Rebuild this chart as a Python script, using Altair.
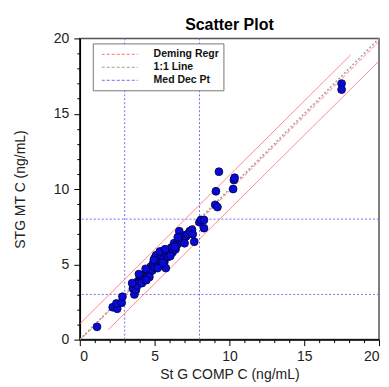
import altair as alt
import pandas as pd

# ---- data ----
comp_x = [1.15, 2.2, 2.5, 2.45, 2.8, 2.85, 3.55, 3.65, 3.6, 3.75, 3.85, 3.9, 4.0, 4.1,
          4.2, 4.3, 4.35, 4.5, 4.55, 4.6, 4.7, 4.75, 4.85, 4.9, 5.0, 5.0, 5.1, 5.15,
          5.25, 5.3, 5.4, 5.45, 5.5, 5.6, 5.65, 5.75, 5.8, 5.9, 6.0, 6.1, 6.2, 6.3,
          6.4, 6.5, 6.65, 6.7, 6.85, 6.95, 7.1, 7.2, 7.35, 7.5, 7.65, 7.55, 8.0, 8.1,
          8.3, 8.3, 9.05, 9.2, 9.1, 9.3, 10.25, 10.3, 10.35, 17.5, 17.5,
          3.5, 3.95, 4.15, 4.4, 4.65, 4.95, 5.2, 5.35, 5.7, 6.05, 6.35, 4.45, 5.55,
          6.55, 7.0]
mt_y = [0.85, 2.15, 2.05, 2.4, 2.45, 2.85, 3.4, 3.0, 3.7, 3.3, 3.6, 3.9, 3.85, 4.1,
        3.95, 4.3, 4.05, 4.2, 4.55, 4.35, 4.5, 4.85, 4.6, 5.05, 4.8, 5.4, 5.6, 5.0,
        5.3, 4.9, 5.6, 5.2, 5.85, 5.4, 5.15, 4.75, 5.65, 5.5, 5.9, 6.1, 5.8, 6.4,
        6.0, 6.3, 7.2, 6.6, 6.5, 6.9, 6.85, 7.0, 7.2, 7.3, 6.5, 7.0, 7.8, 7.95,
        7.95, 7.4, 8.95, 8.8, 9.85, 11.15, 10.0, 10.6, 10.75, 17.0, 16.6,
        3.75, 4.35, 3.75, 4.7, 4.15, 5.3, 4.75, 5.85, 6.0, 5.55, 6.15, 3.95, 5.1,
        6.8, 6.4]

med_dec_pts = [3, 8]

deming_x = [0, 20]
deming_y = [-0.05, 19.8]
upper_x = [0, 18.1]
upper_y = [1.05, 18.9]
lower_x = [1.9, 20]
lower_y = [0.66, 18.5]
identity_x = [0, 20]
identity_y = [0, 20]

series_names = ["Deming Regr", "1:1 Line", "Med Dec Pt"]
series_colors = ["#ff7070", "#a0a0a0", "#6f6fff"]

axis_ticks = list(range(0, 21))

FONT = "Liberation Sans"

pts = pd.DataFrame({"x": comp_x, "y": mt_y})
med = pd.DataFrame({"value": med_dec_pts, "series": "Med Dec Pt"})
bands = pd.DataFrame({
    "x": upper_x + lower_x,
    "y": upper_y + lower_y,
    "line": ["upper"] * 2 + ["lower"] * 2,
    "series": "Deming Regr",
})
deming = pd.DataFrame({"x": deming_x, "y": deming_y, "series": "Deming Regr"})
ident = pd.DataFrame({"x": identity_x, "y": identity_y, "series": "1:1 Line"})

xscale = alt.Scale(domain=[0, 20], nice=False, zero=False)
yscale = alt.Scale(domain=[0, 20], nice=False, zero=False)
cscale = alt.Scale(domain=series_names, range=series_colors)

tick_size = {"condition": {"test": "datum.value % 5 === 0", "value": 6}, "value": 3}

xaxis = alt.Axis(values=axis_ticks, labelExpr="datum.value % 5 === 0 ? datum.label : ''",
                 tickSize=tick_size, grid=False, labelPadding=4, titlePadding=4)
yaxis = alt.Axis(values=axis_ticks, labelExpr="datum.value % 5 === 0 ? datum.label : ''",
                 tickSize=tick_size, grid=False, labelPadding=5, titlePadding=26)

XT = "St G COMP C (ng/mL)"
YT = "STG MT C (ng/mL)"


def X(field):
    return alt.X(field, type="quantitative", scale=xscale, axis=xaxis, title=XT)


def Y(field):
    return alt.Y(field, type="quantitative", scale=yscale, axis=yaxis, title=YT)


legend = alt.Legend(
    title=None, orient="none", legendX=13, legendY=5,
    fillColor="white", strokeColor="#777", padding=4, symbolOffset=16,
    symbolType="M-3,0H3", symbolSize=144, symbolStrokeWidth=1.2, symbolDash=[3, 2],
    labelFont=FONT, labelFontSize=10.5, labelFontWeight="bold", labelColor="#111",
    labelOffset=27, rowPadding=0,
)
color = alt.Color("series:N", scale=cscale, legend=legend)

rules_v = alt.Chart(med).mark_rule(strokeDash=[2, 2], strokeWidth=1).encode(
    x=X("value"), color=color)
rules_h = alt.Chart(med).mark_rule(strokeDash=[2, 2], strokeWidth=1).encode(
    y=Y("value"), color=color)

band_lines = alt.Chart(bands).mark_line(strokeWidth=1, opacity=0.8, clip=True).encode(
    x=X("x"), y=Y("y"), detail="line:N", color=color)
deming_line = alt.Chart(deming).mark_line(strokeWidth=1, strokeDash=[4, 2], clip=True).encode(
    x=X("x"), y=Y("y"), color=color)
ident_line = alt.Chart(ident).mark_line(strokeWidth=1.5, strokeDash=[2, 2], clip=True).encode(
    x=X("x"), y=Y("y"), color=color)

points = alt.Chart(pts).mark_point(
    shape="circle", filled=True, fill="#0a0ad8", stroke="#000040",
    strokeWidth=0.8, size=62, opacity=1,
).encode(x=X("x"), y=Y("y"))

chart = alt.layer(rules_v, rules_h, band_lines, ident_line, deming_line, points).properties(
    width=300, height=302,
    title=alt.TitleParams("Scatter Plot", font=FONT, fontSize=16, fontWeight="bold",
                          color="#000", offset=1, dy=3),
    autosize=alt.AutoSizeParams(type="none"),
    padding={"left": 72, "top": 30, "right": 2, "bottom": 42},
).configure_view(
    stroke="#555", strokeWidth=1.5
).configure_axis(
    domainColor="#000", domainWidth=1.5, tickColor="#000", tickWidth=1,
    labelFont=FONT, labelFontSize=14, labelColor="#222",
    titleFont=FONT, titleFontSize=14, titleFontWeight="normal", titleColor="#222",
)

chart.save("out.html", embed_options={"renderer": "svg", "actions": False})
